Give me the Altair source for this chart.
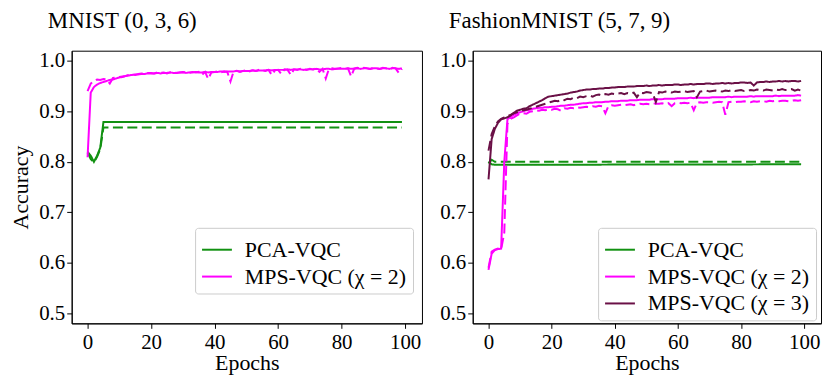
import altair as alt
import pandas as pd

FONT = "Liberation Serif"

# ---------------- data ----------------
epochs = list(range(100))

# MNIST (0, 3, 6)
mn_pca_tr_ep = [0, 1, 2, 3, 4, 5, 99]
mn_pca_tr = [0.820, 0.812, 0.800, 0.812, 0.828, 0.879, 0.879]
mn_pca_te_ep = [0, 1, 2, 3, 4, 5, 99]
mn_pca_te = [0.818, 0.805, 0.799, 0.810, 0.825, 0.868, 0.868]

mn_mps_tr = [
    0.809, 0.937, 0.948, 0.953, 0.956, 0.958, 0.960, 0.962, 0.963, 0.965,
    0.967, 0.968, 0.970, 0.971, 0.972, 0.973, 0.973, 0.974, 0.974, 0.975,
    0.975, 0.975, 0.976, 0.975, 0.976, 0.976, 0.977, 0.976, 0.976, 0.977,
    0.977, 0.976, 0.977, 0.977, 0.978, 0.977, 0.977, 0.978, 0.977, 0.978,
    0.978, 0.978, 0.979, 0.978, 0.979, 0.979, 0.979, 0.980, 0.979, 0.980,
    0.980, 0.980, 0.981, 0.980, 0.981, 0.981, 0.981, 0.982, 0.981, 0.982,
    0.982, 0.982, 0.982, 0.983, 0.982, 0.983, 0.983, 0.983, 0.982, 0.983,
    0.983, 0.983, 0.984, 0.983, 0.983, 0.984, 0.984, 0.983, 0.984, 0.984,
    0.984, 0.984, 0.985, 0.984, 0.984, 0.985, 0.984, 0.985, 0.985, 0.984,
    0.985, 0.985, 0.984, 0.985, 0.985, 0.984, 0.985, 0.985, 0.984, 0.985,
]
mn_mps_te = [
    0.940, 0.955, 0.960, 0.963, 0.962, 0.964, 0.963, 0.955, 0.966, 0.967,
    0.968, 0.969, 0.970, 0.972, 0.973, 0.972, 0.974, 0.975, 0.974, 0.976,
    0.976, 0.975, 0.977, 0.976, 0.977, 0.975, 0.977, 0.978, 0.976, 0.977,
    0.978, 0.977, 0.976, 0.978, 0.977, 0.978, 0.972, 0.978, 0.964, 0.977,
    0.978, 0.979, 0.977, 0.979, 0.978, 0.959, 0.979, 0.980, 0.978, 0.980,
    0.981, 0.979, 0.981, 0.980, 0.982, 0.981, 0.980, 0.982, 0.972, 0.981,
    0.982, 0.974, 0.983, 0.982, 0.972, 0.983, 0.982, 0.984, 0.983, 0.982,
    0.984, 0.983, 0.985, 0.978, 0.984, 0.965, 0.984, 0.985, 0.984, 0.985,
    0.986, 0.984, 0.985, 0.969, 0.985, 0.986, 0.984, 0.986, 0.985, 0.984,
    0.986, 0.985, 0.984, 0.986, 0.985, 0.983, 0.986, 0.985, 0.976, 0.984,
]

# FashionMNIST (5, 7, 9)
fm_pca_tr_ep = [0, 1, 2, 99]
fm_pca_tr = [0.800, 0.795, 0.794, 0.795]
fm_pca_te_ep = [0, 1, 2, 99]
fm_pca_te = [0.797, 0.804, 0.800, 0.800]

fm_mps2_tr = [
    0.586, 0.618, 0.625, 0.627, 0.628, 0.800, 0.884, 0.889, 0.893, 0.896,
    0.898, 0.900, 0.902, 0.903, 0.905, 0.906, 0.907, 0.907, 0.908, 0.908,
    0.909, 0.909, 0.910, 0.911, 0.911, 0.912, 0.913, 0.913, 0.914, 0.915,
    0.916, 0.916, 0.917, 0.917, 0.918, 0.918, 0.918, 0.919, 0.919, 0.920,
    0.920, 0.920, 0.921, 0.921, 0.921, 0.922, 0.922, 0.922, 0.923, 0.923,
    0.923, 0.923, 0.924, 0.924, 0.924, 0.924, 0.925, 0.925, 0.925, 0.925,
    0.926, 0.926, 0.926, 0.926, 0.927, 0.926, 0.927, 0.927, 0.927, 0.927,
    0.927, 0.928, 0.928, 0.928, 0.928, 0.928, 0.929, 0.928, 0.929, 0.929,
    0.929, 0.929, 0.929, 0.930, 0.929, 0.930, 0.930, 0.930, 0.930, 0.930,
    0.930, 0.931, 0.930, 0.931, 0.931, 0.931, 0.931, 0.931, 0.932, 0.931,
]
fm_mps2_te = [
    0.590, 0.622, 0.626, 0.628, 0.626, 0.660, 0.875, 0.885, 0.888, 0.892,
    0.895, 0.896, 0.895, 0.899, 0.900, 0.902, 0.901, 0.903, 0.902, 0.904,
    0.903, 0.905, 0.904, 0.901, 0.906, 0.905, 0.907, 0.906, 0.908, 0.907,
    0.908, 0.909, 0.908, 0.910, 0.909, 0.911, 0.910, 0.896, 0.911, 0.912,
    0.911, 0.912, 0.913, 0.912, 0.913, 0.914, 0.912, 0.914, 0.915, 0.914,
    0.915, 0.914, 0.916, 0.915, 0.915, 0.916, 0.914, 0.916, 0.910, 0.916,
    0.917, 0.916, 0.917, 0.916, 0.917, 0.902, 0.917, 0.918, 0.917, 0.918,
    0.918, 0.917, 0.918, 0.919, 0.918, 0.893, 0.918, 0.919, 0.918, 0.919,
    0.919, 0.920, 0.919, 0.918, 0.920, 0.919, 0.920, 0.920, 0.919, 0.921,
    0.920, 0.921, 0.920, 0.921, 0.921, 0.920, 0.921, 0.922, 0.921, 0.922,
]
fm_mps3_tr = [
    0.765, 0.845, 0.865, 0.877, 0.884, 0.886, 0.888, 0.892, 0.897, 0.901,
    0.903, 0.905, 0.906, 0.910, 0.913, 0.916, 0.919, 0.922, 0.926, 0.929,
    0.930, 0.931, 0.932, 0.933, 0.934, 0.935, 0.937, 0.938, 0.939, 0.941,
    0.942, 0.943, 0.943, 0.944, 0.944, 0.945, 0.945, 0.946, 0.946, 0.947,
    0.947, 0.948, 0.948, 0.948, 0.949, 0.949, 0.949, 0.950, 0.950, 0.950,
    0.951, 0.950, 0.951, 0.951, 0.952, 0.951, 0.952, 0.952, 0.952, 0.953,
    0.953, 0.952, 0.953, 0.953, 0.954, 0.953, 0.954, 0.954, 0.954, 0.955,
    0.955, 0.954, 0.955, 0.955, 0.956, 0.955, 0.956, 0.955, 0.956, 0.956,
    0.957, 0.957, 0.956, 0.957, 0.951, 0.957, 0.958, 0.958, 0.959, 0.958,
    0.959, 0.959, 0.960, 0.959, 0.960, 0.959, 0.960, 0.960, 0.959, 0.960,
]
fm_mps3_te = [
    0.822, 0.855, 0.870, 0.880, 0.885, 0.888, 0.890, 0.893, 0.896, 0.898,
    0.900, 0.902, 0.903, 0.905, 0.907, 0.909, 0.911, 0.913, 0.915, 0.917,
    0.919, 0.921, 0.920, 0.923, 0.922, 0.925, 0.924, 0.927, 0.926, 0.929,
    0.928, 0.930, 0.931, 0.929, 0.932, 0.933, 0.931, 0.934, 0.933, 0.935,
    0.934, 0.935, 0.936, 0.934, 0.936, 0.935, 0.937, 0.928, 0.937, 0.936,
    0.938, 0.937, 0.936, 0.918, 0.938, 0.937, 0.939, 0.938, 0.937, 0.939,
    0.938, 0.939, 0.940, 0.938, 0.939, 0.940, 0.928, 0.939, 0.940, 0.941,
    0.939, 0.940, 0.941, 0.940, 0.939, 0.941, 0.940, 0.942, 0.940, 0.941,
    0.942, 0.940, 0.941, 0.942, 0.941, 0.943, 0.942, 0.941, 0.943, 0.942,
    0.941, 0.943, 0.942, 0.944, 0.942, 0.943, 0.944, 0.941, 0.943, 0.941,
]

PCA = "PCA-VQC"
MPS2 = "MPS-VQC (χ = 2)"
MPS3 = "MPS-VQC (χ = 3)"
GREEN = "#129112"
MAGENTA = "#ff00ff"
PURPLE = "#6a1046"

x_ticks = [0, 20, 40, 60, 80, 100]
y_ticks = [0.5, 0.6, 0.7, 0.8, 0.9, 1.0]


def frame(series):
    rows = []
    for order, (method, split, eps, vals) in enumerate(series):
        for e, v in zip(eps, vals):
            rows.append({"method": method, "split": split, "epoch": e,
                         "acc": v, "key": f"{method}|{split}", "ord": order})
    return pd.DataFrame(rows)


df_mn = frame([
    (PCA, "train", mn_pca_tr_ep, mn_pca_tr),
    (PCA, "test", mn_pca_te_ep, mn_pca_te),
    (MPS2, "train", epochs, mn_mps_tr),
    (MPS2, "test", epochs, mn_mps_te),
])
df_fm = frame([
    (PCA, "train", fm_pca_tr_ep, fm_pca_tr),
    (PCA, "test", fm_pca_te_ep, fm_pca_te),
    (MPS2, "train", epochs, fm_mps2_tr),
    (MPS2, "test", epochs, fm_mps2_te),
    (MPS3, "train", epochs, fm_mps3_tr),
    (MPS3, "test", epochs, fm_mps3_te),
])


def panel(df, title, methods, colors, ytitle, w, lx):
    return alt.Chart(df, title=alt.TitleParams(
        title, anchor="start", frame="group", font=FONT, fontSize=23,
        fontWeight="normal", color="black", dx=-24, offset=17,
    )).mark_line(strokeWidth=2).encode(
        x=alt.X("epoch:Q", scale=alt.Scale(domain=[-5, 105.3], nice=False, zero=False),
                axis=alt.Axis(values=x_ticks, title="Epochs", format="d")),
        y=alt.Y("acc:Q", scale=alt.Scale(domain=[0.48, 1.02], nice=False, zero=False),
                axis=alt.Axis(values=y_ticks, format=".1f", title=ytitle,
                              titlePadding=6)),
        color=alt.Color("method:N", scale=alt.Scale(domain=methods, range=colors),
                        legend=alt.Legend(title=None, orient="none",
                                          legendX=lx, legendY=178)),
        strokeDash=alt.StrokeDash("split:N", scale=alt.Scale(
            domain=["train", "test"], range=[[1, 0], [10, 4.5]]), legend=None),
        detail="key:N",
        order="ord:Q",
    ).properties(width=w, height=274)


left = panel(df_mn, "MNIST (0, 3, 6)", [PCA, MPS2], [GREEN, MAGENTA], "Accuracy", 352, 124)
right = panel(df_fm, "FashionMNIST (5, 7, 9)", [PCA, MPS2, MPS3],
              [GREEN, MAGENTA, PURPLE], None, 350, 126)

chart = alt.hconcat(left, right, spacing=16).resolve_scale(
    color="independent", strokeDash="independent"
).properties(
    padding={"left": 1, "top": 0, "right": 0, "bottom": 0}
).configure_view(
    stroke="black", strokeWidth=1
).configure_axis(
    labelFont=FONT, labelFontSize=21, labelColor="black",
    titleFont=FONT, titleFontSize=22, titleFontWeight="normal", titleColor="black",
    domainColor="black", domainWidth=1, tickColor="black", tickSize=5,
    labelPadding=2, grid=False,
).configure_axisX(
    titlePadding=0, labelPadding=3,
).configure_legend(
    labelFont=FONT, labelFontSize=22, labelColor="black",
    fillColor="white", strokeColor="#cccccc", cornerRadius=3, padding=6,
    symbolType="stroke", symbolSize=900, symbolStrokeWidth=2,
    labelOffset=12, rowPadding=-4, labelLimit=300,
)

chart.save("out.html", embed_options={"renderer": "svg", "actions": False})
